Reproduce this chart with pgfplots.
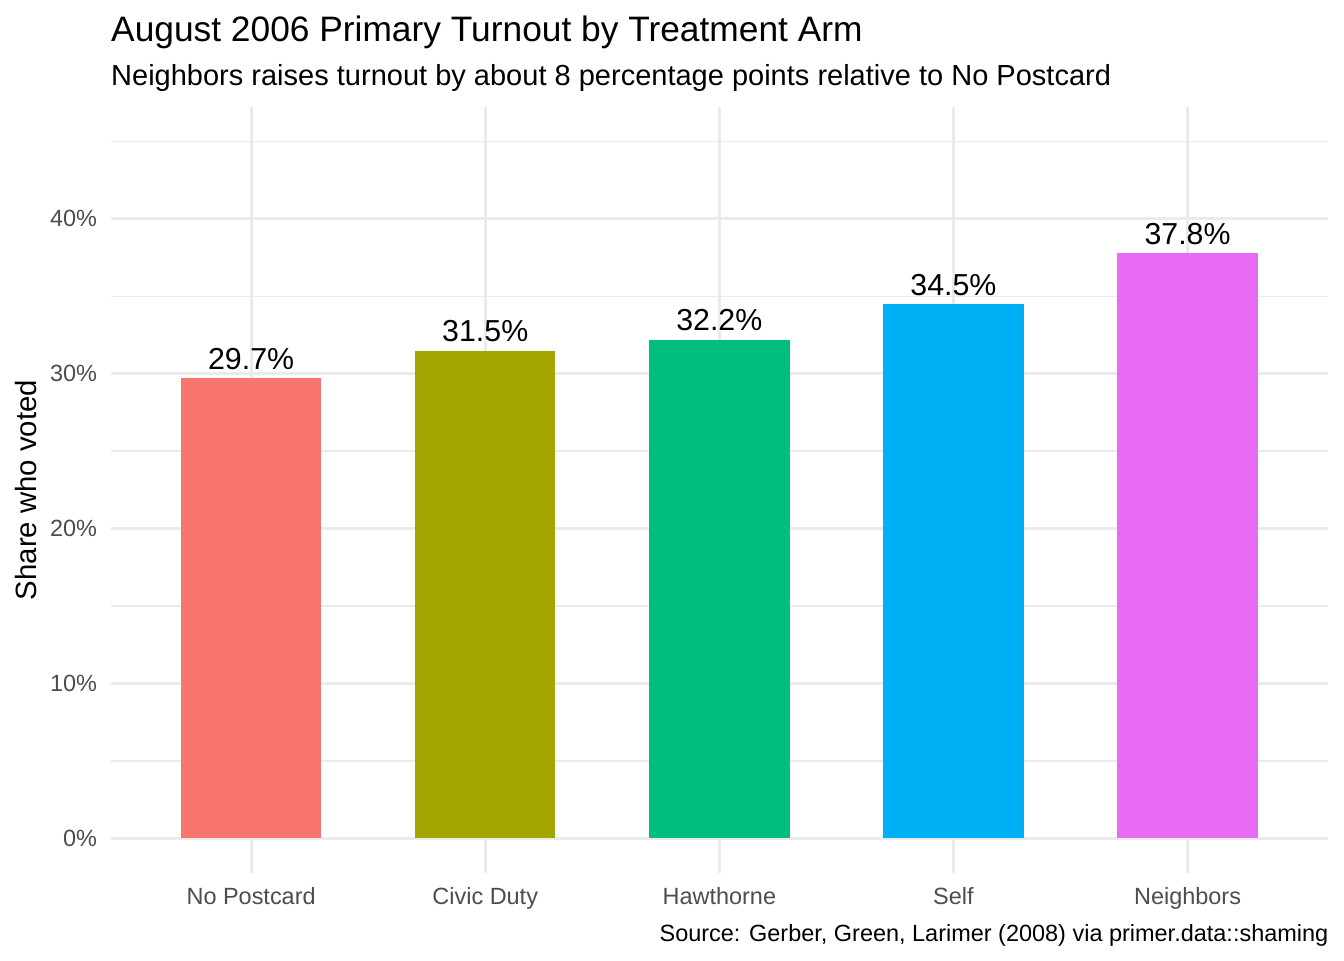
\documentclass[border=0pt]{standalone}
\usepackage{pgfplots}
\pgfplotsset{compat=1.18}
\usepackage{fontspec}
\setmainfont{Liberation Sans}
\definecolor{c1}{HTML}{F8766D}
\definecolor{c2}{HTML}{A3A500}
\definecolor{c3}{HTML}{00BF7D}
\definecolor{c4}{HTML}{00B0F6}
\definecolor{c5}{HTML}{E76BF3}
\definecolor{gridc}{HTML}{EBEBEB}
\definecolor{tickc}{HTML}{4D4D4D}
\begin{document}
\begin{tikzpicture}
\useasboundingbox (0,0) rectangle (504pt,360pt);
\begin{axis}[
  at={(41.5pt,32.6pt)}, anchor=south west,
  scale only axis, width=456.5pt, height=287.4pt,
  xmin=-0.6, xmax=4.6, ymin=-2.25, ymax=47.25,
  axis line style={draw=none},
  major tick length=0pt, minor tick length=0pt,
  xtick={0,1,2,3,4},
  xticklabels={No Postcard,Civic Duty,Hawthorne,Self,Neighbors},
  ytick={0,10,20,30,40},
  yticklabels={0\%,10\%,20\%,30\%,40\%},
  minor ytick={5,15,25,35,45},
  xmajorgrids, ymajorgrids, yminorgrids,
  major grid style={draw=gridc, line width=1.1pt},
  minor grid style={draw=gridc, line width=0.55pt},
  ticklabel style={font=\fontsize{8.8}{10}\selectfont, text=tickc},
  xticklabel style={anchor=base, inner sep=0pt, yshift=-11.6pt},
  yticklabel style={anchor=east, inner sep=0pt, xshift=-4.9pt},
  /pgf/number format/assume math mode=true,
  nodes near coords={\pgfmathprintnumber[fixed,precision=1,fixed zerofill]{\pgfplotspointmeta}\%},
  every node near coord/.style={font=\fontsize{11.38}{13}\selectfont, text=black, anchor=south, inner sep=0pt, yshift=3pt},
  clip=false,
]
\addplot[ybar, bar width=0.6, bar shift=0pt, fill=c1, draw=none] coordinates {(0,29.7)};
\addplot[ybar, bar width=0.6, bar shift=0pt, fill=c2, draw=none] coordinates {(1,31.5)};
\addplot[ybar, bar width=0.6, bar shift=0pt, fill=c3, draw=none] coordinates {(2,32.2)};
\addplot[ybar, bar width=0.6, bar shift=0pt, fill=c4, draw=none] coordinates {(3,34.5)};
\addplot[ybar, bar width=0.6, bar shift=0pt, fill=c5, draw=none] coordinates {(4,37.8)};
\end{axis}
\node[anchor=base west, inner sep=0pt, font=\fontsize{13.25}{15}\selectfont] at (41.5pt,344.6pt) {August 2006 Primary Turnout by Treatment Arm};
\node[anchor=base west, inner sep=0pt, font=\fontsize{10.88}{13}\selectfont] at (41.5pt,327.9pt) {Neighbors raises turnout by about 8 percentage points relative to No Postcard};
\node[anchor=base east, inner sep=0pt, font=\fontsize{8.8}{10}\selectfont] at (498.3pt,7.1pt) {Source: Gerber, Green, Larimer (2008) via primer.data::shaming};
\node[rotate=90, inner sep=0pt, font=\fontsize{11}{13}\selectfont] at (9.75pt,176.25pt) {Share who voted};
\end{tikzpicture}
\end{document}
